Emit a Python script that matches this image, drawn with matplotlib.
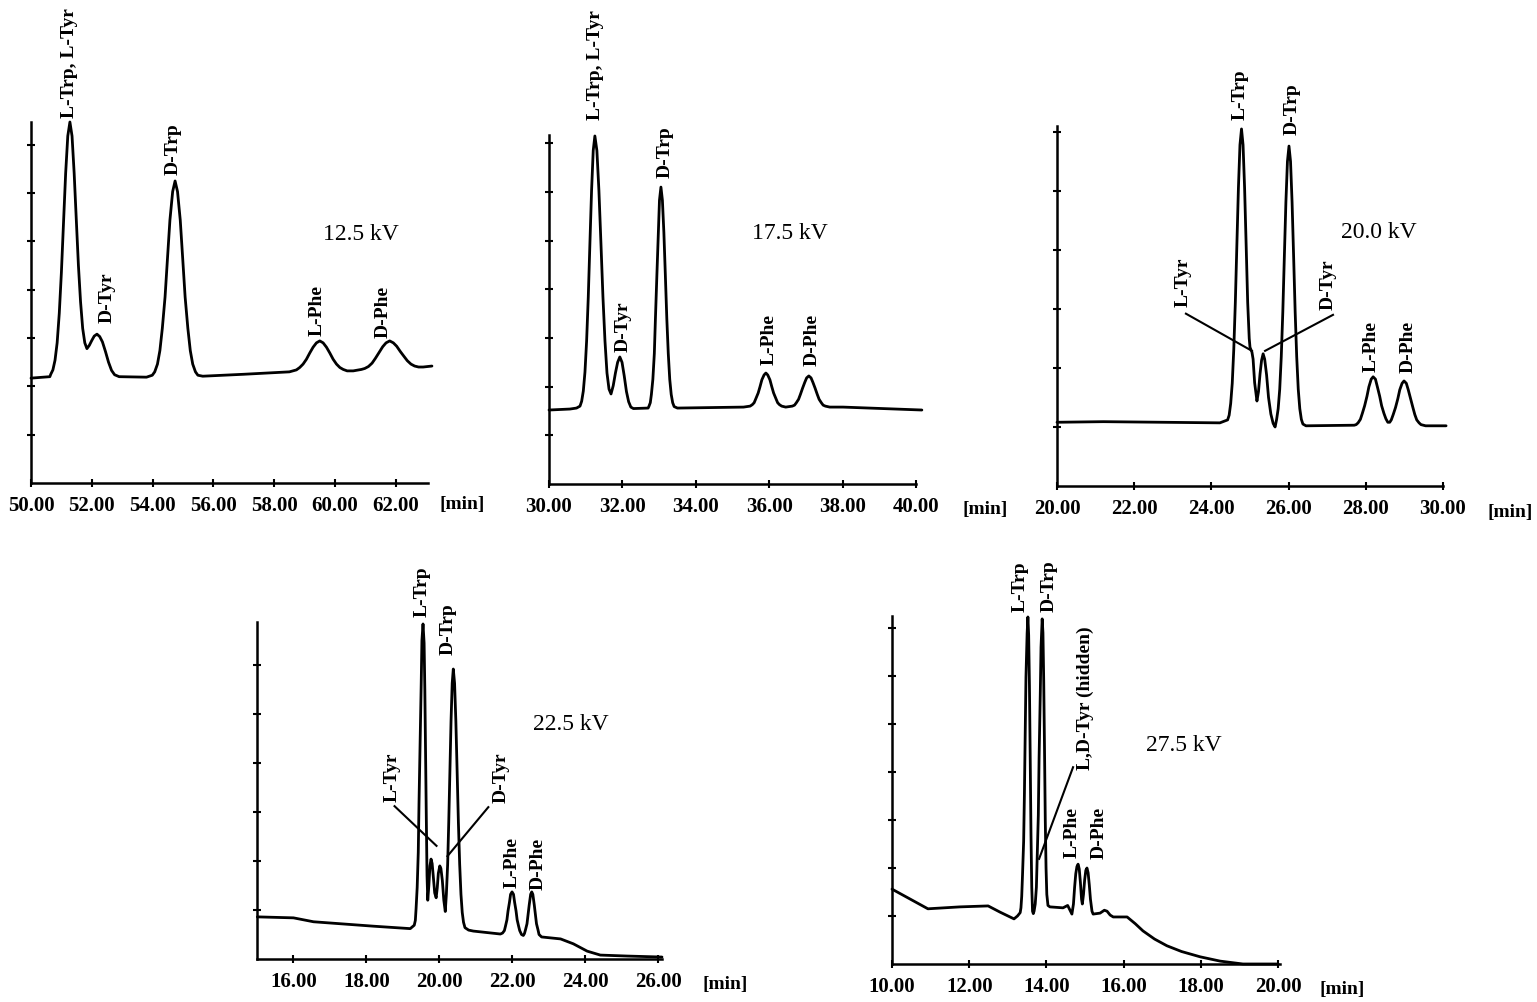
import matplotlib
matplotlib.use('Agg')
import matplotlib.pyplot as plt

plt.rcParams['font.family'] = ['Liberation Serif', 'DejaVu Serif']

W, H = 1537, 1003

# 12.5 kV trace (time [min], detector signal)
t_125 = [50.0, 50.62, 50.65, 50.72, 50.79, 50.86, 50.93, 51.0, 51.07, 51.14, 51.21, 51.28,
         51.35, 51.42, 51.49, 51.56, 51.63, 51.7, 51.77, 51.84, 51.92, 52.0, 52.08, 52.17,
         52.26, 52.35, 52.45, 52.55, 52.65, 52.75, 52.9, 53.8,
         53.99, 54.07, 54.16, 54.24, 54.32, 54.41, 54.49, 54.57, 54.66, 54.74,
         54.82, 54.91, 54.99, 55.07, 55.16, 55.24, 55.32, 55.41, 55.49, 55.65, 57.0, 58.5,
         58.73, 58.84, 58.95, 59.06, 59.17, 59.28, 59.39, 59.5, 59.61, 59.72, 59.83, 59.94,
         60.05, 60.16, 60.27, 60.4, 60.6, 60.87, 60.98, 61.1, 61.22, 61.33, 61.45, 61.57,
         61.68, 61.8, 61.92, 62.03, 62.15, 62.27, 62.38, 62.5, 62.62, 62.75, 62.9, 63.19]
s_125 = [2.17, 2.2, 2.25, 2.34, 2.54, 2.9, 3.51, 4.36, 5.39, 6.41, 7.18, 7.47,
         7.18, 6.41, 5.45, 4.5, 3.75, 3.2, 2.9, 2.78, 2.85, 2.95, 3.04, 3.08,
         3.03, 2.92, 2.72, 2.5, 2.33, 2.24, 2.2, 2.19,
         2.23, 2.3, 2.46, 2.74, 3.2, 3.85, 4.65, 5.44, 6.03, 6.25,
         6.03, 5.44, 4.65, 3.85, 3.2, 2.74, 2.46, 2.3, 2.23, 2.21, 2.25, 2.3,
         2.34, 2.39, 2.46, 2.56, 2.69, 2.81, 2.9, 2.94, 2.9, 2.81, 2.69, 2.56,
         2.46, 2.39, 2.35, 2.32, 2.32, 2.35, 2.37, 2.41, 2.48, 2.58, 2.7, 2.82,
         2.9, 2.94, 2.9, 2.83, 2.72, 2.62, 2.53, 2.46, 2.42, 2.4, 2.4, 2.42]

# 17.5 kV trace
t_175 = [30.0, 30.57, 30.75, 30.845, 30.89, 30.935, 30.98, 31.025, 31.07, 31.115, 31.16, 31.205,
         31.25, 31.305, 31.36, 31.415, 31.47, 31.525, 31.58, 31.635, 31.69, 31.75, 31.81, 31.87,
         31.93, 31.99, 32.05, 32.11, 32.17, 32.23, 32.3, 32.7,
         32.72, 32.76, 32.79, 32.83, 32.87, 32.9, 32.94, 32.98, 33.01, 33.05,
         33.09, 33.13, 33.17, 33.21, 33.25, 33.29, 33.33, 33.37, 33.41, 33.5, 35.3,
         35.48, 35.54, 35.59, 35.64, 35.7, 35.75, 35.8, 35.86, 35.91, 35.96, 36.02, 36.07,
         36.12, 36.18, 36.23, 36.28, 36.34, 36.45, 36.63, 36.69, 36.74, 36.8, 36.85, 36.91,
         36.97, 37.02, 37.08, 37.14, 37.19, 37.25, 37.31, 37.36, 37.42, 37.47, 37.53, 37.65,
         38.01, 40.16]
s_175 = [1.52, 1.54, 1.56, 1.6, 1.7, 1.91, 2.3, 2.94, 3.84, 4.95, 6.03, 6.85,
         7.15, 6.85, 6.03, 4.95, 3.84, 2.94, 2.28, 1.95, 1.85, 2.02, 2.28, 2.5,
         2.61, 2.5, 2.22, 1.9, 1.69, 1.58, 1.55, 1.56,
         1.59, 1.67, 1.84, 2.15, 2.68, 3.4, 4.3, 5.17, 5.83, 6.1,
         5.83, 5.17, 4.3, 3.4, 2.68, 2.15, 1.84, 1.67, 1.59, 1.56, 1.58,
         1.6, 1.63, 1.67, 1.76, 1.87, 2.0, 2.14, 2.24, 2.28, 2.24, 2.14, 2.0,
         1.87, 1.76, 1.67, 1.63, 1.6, 1.58, 1.6, 1.62, 1.67, 1.74, 1.84, 1.97,
         2.09, 2.18, 2.22, 2.18, 2.09, 1.97, 1.84, 1.74, 1.67, 1.62, 1.6, 1.58,
         1.58, 1.52]

# 20.0 kV trace
t_200 = [20.0, 21.2, 24.22, 24.42, 24.46, 24.5, 24.54, 24.58, 24.62, 24.66, 24.7, 24.74,
         24.78, 24.82, 24.86, 24.9, 24.94, 24.98, 25.0, 25.03, 25.05, 25.08, 25.12, 25.18,
         25.22, 25.26, 25.3, 25.34, 25.38, 25.43, 25.48, 25.54, 25.6, 25.65,
         25.69, 25.73, 25.77, 25.81, 25.85, 25.89, 25.93, 25.97, 26.01, 26.05, 26.09, 26.13,
         26.17, 26.21, 26.25, 26.29, 26.33, 26.37, 26.45, 27.7, 27.75, 27.8, 27.86, 27.91,
         27.97, 28.03, 28.08, 28.14, 28.19, 28.25, 28.3, 28.36, 28.41, 28.47, 28.52, 28.57,
         28.62, 28.66, 28.71, 28.77, 28.83, 28.88, 28.94, 28.99, 29.05, 29.1, 29.16, 29.22,
         29.27, 29.32, 29.38, 29.43, 29.55, 30.08]
s_200 = [1.08, 1.09, 1.07, 1.12, 1.2, 1.4, 1.74, 2.32, 3.11, 4.09, 5.05, 5.78,
         6.05, 5.78, 5.05, 4.09, 3.11, 2.5, 2.35, 2.3, 2.27, 2.15, 1.75, 1.44,
         1.6, 1.9, 2.13, 2.24, 2.15, 1.88, 1.5, 1.22, 1.06, 1.0,
         1.13, 1.31, 1.64, 2.19, 2.95, 3.89, 4.81, 5.5, 5.76, 5.5, 4.81, 3.89,
         2.95, 2.19, 1.64, 1.31, 1.13, 1.05, 1.02, 1.03, 1.04, 1.07, 1.13, 1.23,
         1.36, 1.52, 1.68, 1.81, 1.85, 1.81, 1.68, 1.52, 1.36, 1.23, 1.14, 1.08,
         1.08, 1.12, 1.21, 1.33, 1.48, 1.63, 1.74, 1.78, 1.74, 1.63, 1.48, 1.33,
         1.21, 1.12, 1.07, 1.04, 1.02, 1.02]

# 22.5 kV trace
t_225 = [15.01, 16.0, 16.55, 18.19, 19.2, 19.31, 19.34, 19.36, 19.39, 19.42, 19.44, 19.47,
         19.5, 19.52, 19.55, 19.58, 19.6, 19.62, 19.64, 19.66, 19.68, 19.71, 19.74, 19.77,
         19.8, 19.83, 19.87, 19.91, 19.94, 19.97, 20.01, 20.04, 20.08, 20.12, 20.16,
         20.19, 20.225, 20.255, 20.287, 20.318, 20.35, 20.38, 20.415, 20.45, 20.485, 20.52,
         20.555, 20.59, 20.625, 20.66, 20.7, 20.8, 20.93, 21.67, 21.73, 21.78, 21.81, 21.85,
         21.88, 21.92, 21.95, 21.99, 22.03, 22.06, 22.1, 22.13, 22.17, 22.2, 22.25, 22.3,
         22.33, 22.36, 22.4, 22.43, 22.46, 22.5, 22.53, 22.56, 22.6, 22.63, 22.66, 22.7,
         22.73, 22.8, 23.32, 23.67, 24.05, 24.41, 25.15, 26.1]
s_225 = [0.86, 0.84, 0.76, 0.67, 0.62, 0.69, 0.79, 1.03, 1.46, 2.18, 3.17, 4.4,
         5.6, 6.5, 6.84, 6.45, 5.5, 4.2, 2.9, 1.7, 1.2, 1.5, 1.9, 2.04,
         1.95, 1.7, 1.35, 1.25, 1.45, 1.75, 1.9, 1.85, 1.6, 1.2, 0.97,
         1.32, 1.93, 2.78, 3.83, 4.86, 5.63, 5.92, 5.63, 4.86, 3.83, 2.78,
         1.93, 1.32, 0.95, 0.75, 0.64, 0.59, 0.57, 0.51, 0.53, 0.58, 0.67, 0.8,
         0.98, 1.16, 1.32, 1.37, 1.32, 1.16, 0.98, 0.8, 0.67, 0.58, 0.5, 0.48,
         0.52, 0.6, 0.72, 0.91, 1.1, 1.32, 1.37, 1.32, 1.1, 0.91, 0.72, 0.6,
         0.5, 0.45, 0.41, 0.31, 0.16, 0.08, 0.06, 0.04]

# 27.5 kV trace
t_275 = [10.0, 10.93, 11.76, 12.49, 12.8, 13.16, 13.25, 13.32, 13.34, 13.36, 13.38, 13.41,
         13.43, 13.45, 13.47, 13.5, 13.52, 13.54, 13.56, 13.58, 13.6, 13.62, 13.64, 13.66,
         13.68, 13.71, 13.74, 13.76, 13.79, 13.81, 13.84, 13.86, 13.89, 13.91, 13.93, 13.95,
         13.97, 13.99, 14.01, 14.04, 14.09, 14.43, 14.55, 14.66, 14.7, 14.73, 14.76, 14.79,
         14.82, 14.85, 14.88, 14.91, 14.93, 14.96, 14.99, 15.02, 15.05, 15.08, 15.11, 15.14,
         15.18, 15.21, 15.39, 15.5, 15.57, 15.65, 15.73, 16.09, 16.3, 16.5, 16.8, 17.12,
         17.5, 17.98, 18.5, 19.09, 20.0]
s_275 = [1.56, 1.15, 1.19, 1.21, 1.08, 0.94, 1.0, 1.07, 1.17, 1.41, 1.84, 2.56,
         3.55, 4.78, 5.98, 6.89, 7.23, 6.85, 5.8, 4.3, 2.7, 1.6, 1.1, 1.05,
         1.1, 1.25, 1.6, 2.2, 3.1, 4.3, 5.6, 6.6, 7.19, 6.9, 5.9, 4.5,
         3.0, 2.0, 1.45, 1.22, 1.19, 1.17, 1.22, 1.04, 1.25, 1.6, 1.88, 2.03,
         2.08, 1.98, 1.7, 1.35, 1.25, 1.45, 1.75, 1.95, 2.0, 1.9, 1.65, 1.35,
         1.1, 1.04, 1.06, 1.12, 1.1, 1.02, 0.98, 0.98, 0.84, 0.69, 0.52, 0.38,
         0.26, 0.15, 0.06, 0.0, 0.0]

# peak labels: (text, time, signal at label foot)
labels_125 = [("L-Trp, L-Tyr", 51.28, 7.58), ("D-Tyr", 52.5, 3.33), ("D-Trp", 54.67, 6.4),
              ("L-Phe", 59.4, 3.06), ("D-Phe", 61.58, 3.02)]
labels_175 = [("L-Trp, L-Tyr", 31.28, 7.49), ("D-Tyr", 32.02, 2.73), ("D-Trp", 33.16, 6.3),
              ("L-Phe", 36.0, 2.46), ("D-Phe", 37.17, 2.44)]
labels_200 = [("L-Trp", 24.74, 6.22), ("D-Trp", 26.09, 5.97), ("L-Tyr", 23.26, 3.05),
              ("D-Tyr", 27.02, 3.0), ("L-Phe", 28.13, 1.95), ("D-Phe", 29.09, 1.93)]
labels_225 = [("L-Trp", 19.52, 7.0), ("D-Trp", 20.23, 6.22), ("L-Tyr", 18.7, 3.22),
              ("D-Tyr", 21.7, 3.2), ("L-Phe", 21.98, 1.47), ("D-Phe", 22.7, 1.43)]
labels_275 = [("L-Trp", 13.32, 7.35), ("D-Trp", 14.07, 7.35), ("L,D-Tyr (hidden)", 15.0, 4.06),
              ("L-Phe", 14.66, 2.23), ("D-Phe", 15.36, 2.21)]

# leader lines (x0, y0, x1, y1)
leaders_200 = [(23.34, 2.92, 25.05, 2.29), (27.15, 2.9, 25.39, 2.29)]
leaders_225 = [(18.77, 3.12, 19.92, 2.31), (21.34, 3.1, 20.22, 2.1)]
leaders_275 = [(14.69, 4.1, 13.81, 2.19)]

voltages = ["12.5 kV", "17.5 kV", "20.0 kV", "22.5 kV", "27.5 kV"]
volt_pos = [(60.86, 5.16), (36.57, 5.17), (28.34, 4.32), (23.6, 4.8), (17.56, 4.58)]


def px_box(left, right, bottom, top):
    return [left / W, 1 - bottom / H, (right - left) / W, (bottom - top) / H]


panels = [
    dict(t=t_125, s=s_125, labels=labels_125, leaders=[], box=(31, 428, 484, 123),
         xlim=(50, 63.06), ylim=(0, 7.47), xt=range(50, 63, 2), yt=range(1, 8), mins=(34, -21)),
    dict(t=t_175, s=s_175, labels=labels_175, leaders=[], box=(549, 916, 485, 136),
         xlim=(30, 40), ylim=(0, 7.17), xt=range(30, 41, 2), yt=range(1, 8), mins=(69, -25)),
    dict(t=t_200, s=s_200, labels=labels_200, leaders=leaders_200, box=(1057, 1443, 487, 127),
         xlim=(20, 30), ylim=(0, 6.1), xt=range(20, 31, 2), yt=range(1, 7), mins=(67, -26)),
    dict(t=t_225, s=s_225, labels=labels_225, leaders=leaders_225, box=(257, 662, 960, 623),
         xlim=(15, 26.1), ylim=(0, 6.88), xt=range(16, 27, 2), yt=range(1, 7), mins=(63, -25)),
    dict(t=t_275, s=s_275, labels=labels_275, leaders=leaders_275, box=(892, 1280, 965, 617),
         xlim=(10, 20.05), ylim=(0, 7.25), xt=range(10, 21, 2), yt=range(1, 8), mins=(62, -25)),
]

fig = plt.figure(figsize=(W / 100, H / 100), dpi=100)

for p, volt, vpos in zip(panels, voltages, volt_pos):
    ax = fig.add_axes(px_box(*p['box']))
    ax.plot(p['t'], p['s'], color='black', lw=2.0, clip_on=False,
            solid_joinstyle='round', solid_capstyle='round')
    for x0, y0, x1, y1 in p['leaders']:
        ax.plot([x0, x1], [y0, y1], color='black', lw=1.5, clip_on=False)
    for txt, x, y in p['labels']:
        ax.text(x, y, txt, rotation=90, ha='center', va='bottom', fontsize=14,
                fontweight='bold', clip_on=False)
    ax.text(vpos[0], vpos[1], volt, ha='center', va='center', fontsize=17)

    ax.set_xlim(*p['xlim'])
    ax.set_ylim(*p['ylim'])
    ax.set_xticks(list(p['xt']))
    ax.set_xticklabels(['%.2f' % v for v in p['xt']], fontsize=15, fontweight='bold')
    ax.set_yticks(list(p['yt']))
    ax.set_yticklabels([])
    ax.tick_params(axis='both', direction='inout', length=6, width=1.5)
    ax.tick_params(axis='x', pad=6)
    for side in ['top', 'right']:
        ax.spines[side].set_visible(False)
    for side in ['left', 'bottom']:
        ax.spines[side].set_linewidth(1.8)
    ax.patch.set_alpha(0)
    ax.annotate('[min]', xy=(1, 0), xycoords='axes fraction', xytext=p['mins'],
                textcoords='offset pixels', ha='center', va='center', fontsize=14,
                fontweight='bold')

fig.savefig('out.png', dpi=100)
